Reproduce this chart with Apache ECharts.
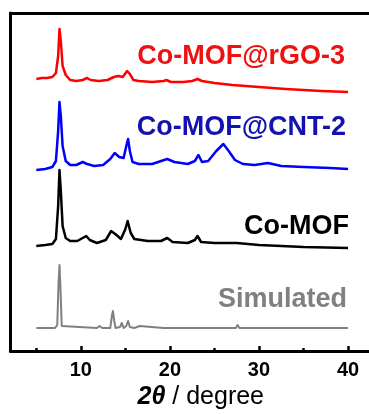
<!DOCTYPE html>
<html>
<head>
<meta charset="utf-8">
<script src="https://cdn.jsdelivr.net/npm/echarts@6/dist/echarts.min.js"></script>
<style>
  html, body { margin: 0; padding: 0; background: #fff; }
  #chart { width: 369px; height: 414px; }
</style>
</head>
<body>
<div id="chart"></div>
<script>
// PXRD patterns, stacked with vertical offsets (arbitrary intensity units)
const sampleNames = ['Co-MOF@rGO-3', 'Co-MOF@CNT-2', 'Co-MOF', 'Simulated'];
const stackOffsets = [270, 185, 107, 23];

// [2θ (deg), intensity]
const rgoPattern = [
  [5.0, 2], [5.6, 3], [6.2, 3], [6.8, 4], [7.2, 8], [7.45, 25], [7.6, 52], [7.75, 40],
  [7.95, 15], [8.3, 6], [8.8, 1], [9.5, 0], [10.2, 1], [10.7, 3], [11.1, 1], [12.0, 0],
  [13.0, 1], [13.7, 4], [14.2, 5], [14.7, 4], [15.2, 10], [15.5, 7], [15.9, 1], [16.5, 0],
  [18.0, -1], [19.3, 0], [19.6, 1], [20.1, -1], [21.5, -1], [22.5, 0], [23.1, 2], [23.6, 0],
  [25.0, -2], [27.0, -4], [30.0, -6], [33.0, -8], [35.0, -9], [37.0, -10], [40.0, -11]
];
const cntPattern = [
  [5.0, -4], [6.0, -3], [6.8, -1], [7.2, 5], [7.45, 35], [7.6, 64], [7.75, 50], [7.95, 20],
  [8.3, 5], [8.8, 1], [9.5, 1], [10.2, 4], [10.7, 2], [11.5, 0], [12.5, 1], [13.3, 7],
  [13.8, 13], [14.3, 9], [14.8, 8], [15.1, 20], [15.3, 27], [15.5, 15], [15.8, 4], [16.5, 2],
  [18.0, 2], [19.7, 7], [20.5, 4], [22.0, 2], [22.8, 5], [23.2, 11], [23.6, 4], [24.3, 5],
  [25.2, 15], [26.0, 22], [26.6, 15], [27.3, 6], [28.2, 2], [29.5, 1], [31.0, 3], [32.5, 0],
  [35.0, -1], [38.0, -2], [40.0, -3]
];
const mofPattern = [
  [5.0, -2], [6.0, -1], [6.8, 0], [7.2, 5], [7.45, 38], [7.6, 74], [7.75, 53], [7.95, 18],
  [8.3, 6], [8.8, 3], [9.6, 3], [10.2, 6], [10.6, 8], [11.0, 4], [11.8, 1], [12.8, 4],
  [13.4, 13], [13.6, 15], [14.0, 9], [14.5, 5], [15.0, 15], [15.25, 23], [15.6, 11], [16.0, 5],
  [17.5, 3], [19.0, 3], [19.7, 6], [20.3, 2], [22.0, 1], [22.8, 4], [23.1, 8], [23.5, 2],
  [25.0, 1], [27.5, 1], [30.0, -1], [35.0, -3], [40.0, -4]
];
const simPattern = [
  [5.0, 0], [6.5, 0], [7.1, 0], [7.35, 3], [7.5, 47], [7.6, 63], [7.7, 42], [7.85, 2],
  [8.0, 0], [11.8, 0], [12.1, 2], [12.4, 0], [13.3, 0], [13.5, 13], [13.6, 17], [13.75, 7],
  [13.9, 0], [14.4, 1], [14.6, 5], [14.8, 0], [15.1, 2], [15.3, 7], [15.5, 1], [16.0, 0],
  [16.6, 2], [16.8, 0], [19.3, 0], [19.5, 1], [19.7, 0], [22.5, 0], [22.7, 1], [22.9, 0],
  [27.4, 0], [27.6, 3], [27.8, 0], [31.0, 0], [31.2, 1], [31.4, 0], [40.0, 0]
];

const majorTicks = [10, 20, 30, 40];
const minorTicks = [5, 15, 25, 35];

const lineColors = ['#ff0000', '#0000ff', '#000000', '#808080'];
const textColors = ['#ee1111', '#1212b0', '#000000', '#808080'];
const lineWidths = [2.5, 2.5, 2.5, 2];
const patterns = [rgoPattern, cntPattern, mofPattern, simPattern];

const font = '"Liberation Sans", Arial, sans-serif';
const X_MIN = 2.1, X_MAX = 43.25;

const chart = echarts.init(document.getElementById('chart'), null, { renderer: 'canvas' });

const series = patterns.map((pts, i) => ({
  name: sampleNames[i],
  type: 'line',
  showSymbol: false,
  silent: true,
  animation: false,
  lineStyle: { color: lineColors[i], width: lineWidths[i], join: 'round' },
  data: pts.map(p => [p[0], p[1] + stackOffsets[i]])
}));

// sample labels, right-aligned above each trace
const labelSpots = [[345, 57], [346, 128], [349, 227], [347, 300]];
const graphics = sampleNames.map((name, i) => ({
  type: 'text',
  x: labelSpots[i][0],
  y: labelSpots[i][1],
  style: {
    text: name,
    fill: textColors[i],
    font: 'bold 27px ' + font,
    textAlign: 'right',
    textVerticalAlign: 'middle'
  }
}));

const frameLine = { show: true, lineStyle: { color: '#000', width: 3 } };

chart.setOption({
  animation: false,
  grid: {
    left: 10.5, right: -8, top: 13, bottom: 63,
    outerBoundsMode: 'none', containLabel: false
  },
  xAxis: [{
    type: 'value', min: X_MIN, max: X_MAX,
    axisLine: frameLine,
    axisTick: { inside: true, length: 5, customValues: majorTicks, lineStyle: { color: '#000', width: 2.5 } },
    axisLabel: {
      customValues: majorTicks, margin: 9,
      color: '#000', fontFamily: font, fontWeight: 'bold', fontSize: 20
    },
    splitLine: { show: false },
    name: '{a|2θ}{b| / degree}',
    nameLocation: 'middle',
    nameGap: 22,
    nameTextStyle: {
      padding: [0, 0, 0, 14],
      rich: {
        a: { fontFamily: font, fontWeight: 'bold', fontStyle: 'italic', fontSize: 25, color: '#000' },
        b: { fontFamily: font, fontSize: 25, color: '#000' }
      }
    }
  }, {
    type: 'value', min: X_MIN, max: X_MAX, position: 'bottom',
    axisLine: { show: false },
    axisTick: { inside: true, length: 3, customValues: minorTicks, lineStyle: { color: '#000', width: 2.5 } },
    axisLabel: { show: false },
    splitLine: { show: false }
  }, {
    // top edge of the frame
    type: 'value', min: X_MIN, max: X_MAX, position: 'top',
    axisLine: frameLine,
    axisTick: { show: false },
    axisLabel: { show: false },
    splitLine: { show: false }
  }],
  yAxis: {
    type: 'value', min: 0, max: 338,
    axisLine: frameLine,
    axisTick: { show: false },
    axisLabel: { show: false },
    splitLine: { show: false }
  },
  series: series,
  graphic: graphics
});
</script>
</body>
</html>
